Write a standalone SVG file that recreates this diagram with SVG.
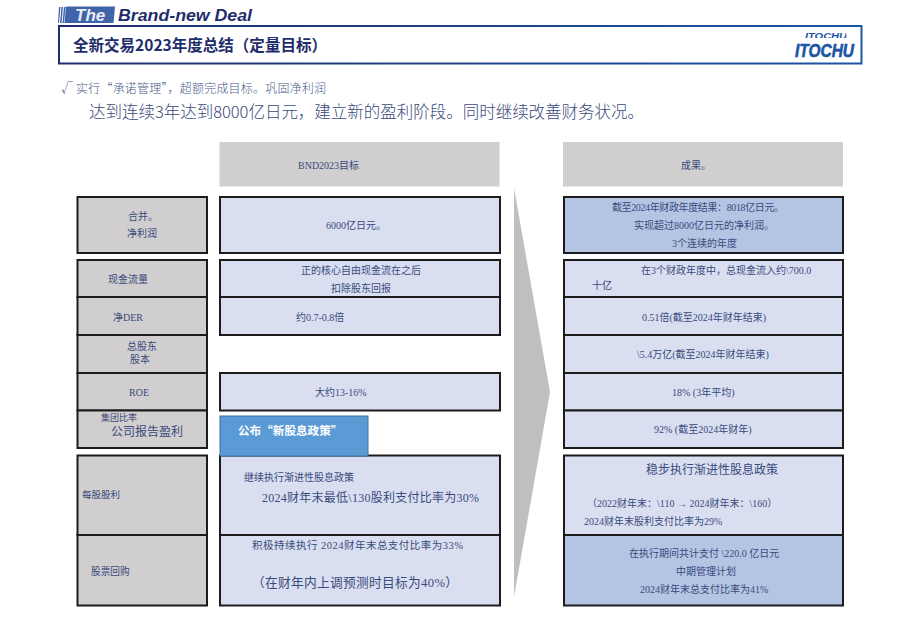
<svg xmlns="http://www.w3.org/2000/svg" width="920" height="637" viewBox="0 0 920 637">
<style>
text{font-family:"Liberation Serif","Noto Sans CJK SC",serif;font-size:10px;fill:#3a4a7c}
.l{fill:#d0cece;stroke:#1c1c1c;stroke-width:2}
.t{fill:#d9dff0;stroke:#1c1c1c;stroke-width:2}
.d{fill:#b4c5e4;stroke:#1c1c1c;stroke-width:2}
.h{fill:#d0cece}
.mid{font-size:12px}
.sans{font-family:"Liberation Sans","Noto Sans CJK SC",sans-serif}
.cjk{font-family:"Noto Sans CJK SC",sans-serif}
.logo{font-family:"Liberation Sans",sans-serif;font-weight:bold;font-style:italic;fill:#1c55a5}
</style>
<defs>
<linearGradient id="bar" x1="0" x2="1" y1="0" y2="0"><stop offset="0" stop-color="#1f2d6b"/><stop offset="0.45" stop-color="#1f3f85"/><stop offset="1" stop-color="#1c55a5"/></linearGradient>
<clipPath id="logoTop"><polygon points="806,33 846,33 847,38 804,38"/></clipPath>
</defs>
<g id="header">
<path d="M59,7h1.500l-1.500,16H58zM61.500,7h1.500l-1.500,16h-1.500zM64,7h1.500l-1.500,16h-1.500z" fill="#3f64a8"/>
<polygon points="66,6.500 115,6.500 113.500,23 64.500,23" fill="#3f64a8"/>
<text x="75" y="21" class="sans" style="font-size:17px;font-weight:bold;font-style:italic;fill:#e8edf6">The</text>
<text x="118" y="21" class="sans" style="font-size:17px;font-weight:bold;font-style:italic;fill:#1f2d6b" textLength="134" lengthAdjust="spacingAndGlyphs">Brand-new Deal</text>
<rect x="59" y="26" width="802.500" height="37.500" fill="#fff" stroke="url(#bar)" stroke-width="2"/>
<text x="73" y="51" class="cjk" style="font-size:15.800px;font-weight:bold;fill:#1f2d6b" textLength="254" lengthAdjust="spacingAndGlyphs">全新交易2023年度总结（定量目标）</text>
</g>
<g id="logo">
<text x="805" y="38.500" clip-path="url(#logoTop)" class="logo" style="font-size:9px" textLength="42" lengthAdjust="spacingAndGlyphs">ITOCHU</text>
<text x="795" y="57" class="logo" style="font-size:18px;stroke:#1c55a5;stroke-width:.6" textLength="59" lengthAdjust="spacingAndGlyphs">ITOCHU</text>
</g>
<g id="intro">
<text x="61" y="93" class="cjk" style="font-size:12px;font-weight:300;fill:#4a5a88" textLength="265">√ 实行“承诺管理”，超额完成目标。巩固净利润</text>
<text x="89" y="118" class="cjk" style="font-size:16.500px;font-weight:300" textLength="555">达到连续3年达到8000亿日元，建立新的盈利阶段。同时继续改善财务状况。</text>
</g>
<g id="connectors">
<polygon points="514,188 550,392 514,597" fill="#bfbfbf"/>
</g>
<g id="col-head-target"><rect class="h" x="219.500" y="142" width="280" height="44.500"/><text x="298" y="169">BND2023目标</text></g>
<g id="col-head-result"><rect class="h" x="563" y="142" width="280" height="44.500"/><text x="681" y="169">成果。</text></g>
<g id="row-net-profit">
<rect class="l" x="77.500" y="197" width="129.500" height="56"/><text x="128" y="220">合并。</text><text x="127" y="237">净利润</text>
<rect class="t" x="220" y="197" width="280" height="56"/><text x="326" y="229">6000亿日元。</text>
<rect class="d" x="564" y="197" width="279" height="56"/><text x="612" y="211" textLength="172">截至2024年财政年度结果：8018亿日元。</text><text x="634" y="229">实现超过8000亿日元的净利润。</text><text x="672" y="247">3个连续的年度</text>
</g>
<g id="row-cash-flow">
<rect class="l" x="77.500" y="260" width="129.500" height="37"/><text x="108" y="283">现金流量</text>
<rect class="t" x="220" y="260" width="280" height="37"/><text x="301" y="274">正的核心自由现金流在之后</text><text x="331" y="292">扣除股东回报</text>
<rect class="t" x="564" y="260" width="279" height="37"/><text x="641" y="274">在3个财政年度中，总现金流入约\700.0</text><text x="592" y="289">十亿</text>
</g>
<g id="row-net-der">
<rect class="l" x="77.500" y="297" width="129.500" height="38"/><text x="113" y="321">净DER</text>
<rect class="t" x="220" y="297" width="280" height="38"/><text x="296" y="321">约0.7-0.8倍</text>
<rect class="t" x="564" y="297" width="279" height="38"/><text x="642" y="321">0.51倍(截至2024年财年结束)</text>
</g>
<g id="row-equity">
<rect class="l" x="77.500" y="335" width="129.500" height="38"/><text x="127" y="350">总股东</text><text x="130" y="363">股本</text>
<rect class="t" x="564" y="335" width="279" height="38"/><text x="637" y="358">\5.4万亿(截至2024年财年结束)</text>
</g>
<g id="row-roe">
<rect class="l" x="77.500" y="373" width="129.500" height="37.500"/><text x="129" y="396">ROE</text>
<rect class="t" x="220" y="373" width="280" height="37.500"/><text x="315" y="396">大约13-16%</text>
<rect class="t" x="564" y="373" width="279" height="37.500"/><text x="672" y="396">18% (3年平均)</text>
</g>
<g id="row-group-ratio">
<rect class="l" x="77.500" y="410.500" width="129.500" height="37.500"/><text x="101" y="421" style="font-size:9px">集团比率</text><text x="111" y="436" class="mid">公司报告盈利</text>
<rect class="t" x="564" y="410.500" width="279" height="37.500"/><text x="654" y="433">92% (截至2024年财年)</text>
</g>
<g id="row-dividend">
<rect class="l" x="77.500" y="455.500" width="129.500" height="79.500"/><text x="82" y="498" style="font-size:9.500px">每股股利</text>
<rect class="t" x="220" y="455.500" width="280" height="79.500"/><text x="244" y="481">继续执行渐进性股息政策</text><text x="262" y="502" class="mid" textLength="217">2024财年末最低\130股利支付比率为30%</text>
<rect class="t" x="564" y="455.500" width="279" height="79.500"/><text x="646" y="474" class="mid">稳步执行渐进性股息政策</text><text x="587" y="507">（2022财年末：\110 → 2024财年末：\160）</text><text x="584" y="525">2024财年末股利支付比率为29%</text>
</g>
<g id="row-buyback">
<rect class="l" x="77.500" y="535" width="129.500" height="70.500"/><text x="91" y="575" style="font-size:9.700px">股票回购</text>
<rect class="t" x="220" y="535" width="280" height="70.500"/><text x="252" y="549" style="font-size:10.500px" textLength="211">积极持续执行 2024财年末总支付比率为33%</text><text x="252" y="587" style="font-size:12.700px" textLength="206">（在财年内上调预测时目标为40%）</text>
<rect class="d" x="564" y="535" width="279" height="70.500"/><text x="629" y="557">在执行期间共计支付 \220.0 亿日元</text><text x="676" y="575">中期管理计划</text><text x="640" y="593">2024财年末总支付比率为41%</text>
</g>
<g id="dividend-policy-tag">
<rect x="220" y="416" width="148" height="40" fill="#5b9bd5" stroke="#41719c"/>
<text x="238" y="435" class="cjk" style="font-size:11.600px;font-weight:bold;fill:#fff">公布“新股息政策”</text>
</g>
</svg>
